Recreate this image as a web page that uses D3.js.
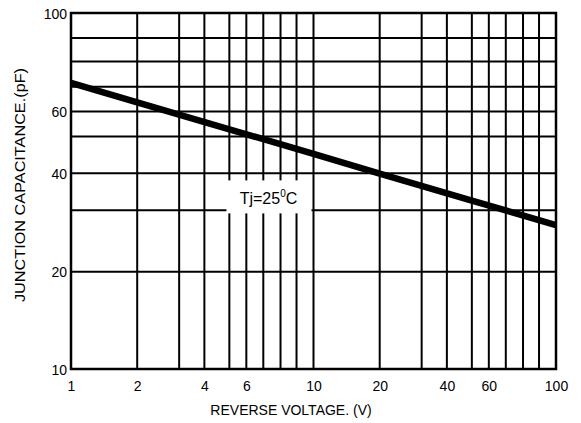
<!DOCTYPE html>
<html>
<head>
<meta charset="utf-8">
<script src="https://cdn.jsdelivr.net/npm/d3@7"></script>
<style>
  html, body { margin: 0; padding: 0; background: #fff; }
  svg { display: block; font-family: "Liberation Sans", Arial, sans-serif; }
</style>
</head>
<body>
<svg id="chart" width="581" height="423"></svg>
<script>
// ---- data ----
const voltage = [1, 2, 5, 10, 20, 50, 100];               // Reverse voltage (V)
const capacitance = [71.5, 63.7, 52.9, 45.3, 39.9, 32.6, 27.6]; // Junction capacitance (pF)
const xGrid = [1, 2, 3, 4, 5, 6, 7, 8, 9, 10, 20, 30, 40, 50, 60, 70, 80, 90, 100];
const yGrid = [10, 20, 30, 40, 50, 60, 70, 80, 90, 100];
const xTickLabels = [1, 2, 4, 6, 10, 20, 40, 60, 100];
const yTickLabels = [10, 20, 40, 60, 100];
const curveLabel = "Tj=25";
const xTitle = "REVERSE VOLTAGE. (V)";
const yTitle = "JUNCTION CAPACITANCE.(pF)";

// ---- layout ----
const margin = { left: 71, right: 25, top: 13, bottom: 54 };
const W = 581, H = 423;
const x0 = margin.left, x1 = W - margin.right;
const y0 = H - margin.bottom, y1 = margin.top;

// The printed log paper uses slightly non-logarithmic spacing within a decade
const stepFrac = [0, 0.273, 0.446, 0.55, 0.653, 0.723, 0.793, 0.864, 0.93, 1];
function decadeScale(lo, decades, r0, r1) {
  const dom = [], rng = [];
  for (let d = 0; d < decades; d++) {
    const base = lo * Math.pow(10, d);
    for (let i = 0; i < 9; i++) {
      dom.push(base * (i + 1));
      rng.push(r0 + (r1 - r0) * (d + stepFrac[i]) / decades);
    }
  }
  dom.push(lo * Math.pow(10, decades));
  rng.push(r1);
  return d3.scaleLinear().domain(dom).range(rng);
}
const x = decadeScale(1, 2, x0, x1);
const y = decadeScale(10, 1, y0, y1);

const svg = d3.select("#chart");

// grid
const grid = svg.append("g").attr("stroke", "#000").attr("stroke-width", 2);
grid.selectAll("line.v").data(xGrid).join("line").attr("class", "v")
  .attr("x1", d => x(d)).attr("x2", d => x(d))
  .attr("y1", y(10)).attr("y2", y(100));
grid.selectAll("line.h").data(yGrid).join("line").attr("class", "h")
  .attr("x1", x(1)).attr("x2", x(100))
  .attr("y1", d => y(d)).attr("y2", d => y(d));

// frame
svg.append("rect")
  .attr("x", x(1)).attr("y", y(100))
  .attr("width", x(100) - x(1)).attr("height", y(10) - y(100))
  .attr("fill", "none").attr("stroke", "#000").attr("stroke-width", 2.5);

// curve label with white box
const lblX = x(7.3), lblY = y(33.6);
svg.append("rect")
  .attr("x", lblX - 42).attr("y", lblY - 16.5)
  .attr("width", 85).attr("height", 33)
  .attr("fill", "#fff");
const lbl = svg.append("text")
  .attr("x", lblX).attr("y", lblY + 7.5)
  .attr("text-anchor", "middle")
  .attr("font-size", 16).attr("fill", "#000");
lbl.append("tspan").text(curveLabel);
lbl.append("tspan").attr("font-size", 10).attr("dy", -7).text("0");
lbl.append("tspan").attr("dy", 7).text("C");

// curve
svg.append("path")
  .datum(voltage.map((v, i) => [v, capacitance[i]]))
  .attr("fill", "none").attr("stroke", "#000").attr("stroke-width", 6.5)
  .attr("d", d3.line().x(d => x(d[0])).y(d => y(d[1])));

// axes
const xAxis = d3.axisBottom(x).tickValues(xTickLabels).tickSize(0).tickPadding(0)
  .tickFormat(d3.format("d"));
const gx = svg.append("g").attr("transform", `translate(0,${y0})`).call(xAxis);
gx.select(".domain").remove();
gx.selectAll("text").attr("dy", null).attr("y", 22)
  .attr("font-size", 14).attr("font-family", "Liberation Sans, Arial, sans-serif").attr("fill", "#000");

const yAxis = d3.axisLeft(y).tickValues(yTickLabels).tickSize(0).tickPadding(0)
  .tickFormat(d3.format("d"));
const gy = svg.append("g").attr("transform", `translate(${x0},0)`).call(yAxis);
gy.select(".domain").remove();
gy.selectAll("text").attr("x", -4).attr("dy", "0.36em")
  .attr("font-size", 14).attr("font-family", "Liberation Sans, Arial, sans-serif").attr("fill", "#000");

// titles
svg.append("text")
  .attr("x", 291).attr("y", 415)
  .attr("text-anchor", "middle").attr("font-size", 14).attr("fill", "#000")
  .text(xTitle);
svg.append("text")
  .attr("transform", "translate(25,185) rotate(-90)")
  .attr("text-anchor", "middle").attr("font-size", 14).attr("fill", "#000")
  .attr("textLength", 234).attr("lengthAdjust", "spacingAndGlyphs")
  .text(yTitle);
</script>
</body>
</html>
